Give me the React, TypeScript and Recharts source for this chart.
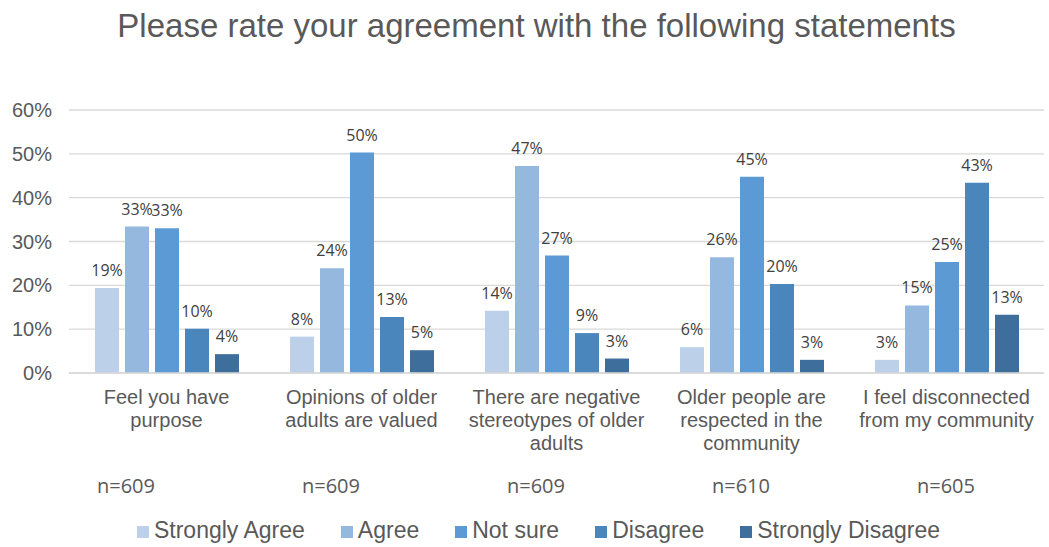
import React from 'react';
import { BarChart, Bar, XAxis, YAxis, CartesianGrid, Legend, LabelList } from 'recharts';

const categories = [
  'Feel you have\npurpose',
  'Opinions of older\nadults are valued',
  'There are negative\nstereotypes of older\nadults',
  'Older people are\nrespected in the\ncommunity',
  'I feel disconnected\nfrom my community',
];
const stronglyAgree = [19.4, 8.3, 14.2, 5.9, 3.0];
const agree = [33.4, 23.9, 47.2, 26.4, 15.4];
const notSure = [33.0, 50.3, 26.8, 44.8, 25.3];
const disagree = [10.1, 12.8, 9.1, 20.3, 43.4];
const stronglyDisagree = [4.3, 5.2, 3.3, 3.0, 13.3];

const seriesNames = ['Strongly Agree', 'Agree', 'Not sure', 'Disagree', 'Strongly Disagree'];
const seriesColors = ['#BDD0E9', '#95B8DF', '#5B9AD5', '#4A85BC', '#3E6E9C'];
const sampleSizes = ['n=609', 'n=609', 'n=609', 'n=610', 'n=605'];
const yTicks = [0, 10, 20, 30, 40, 50, 60];
const titleText = 'Please rate your agreement with the following statements';

const seriesValues = [stronglyAgree, agree, notSure, disagree, stronglyDisagree];
const data = categories.map((category, i) => {
  const row: Record<string, any> = { category };
  seriesValues.forEach((vals, s) => {
    row['s' + s] = vals[i];
  });
  return row;
});

const SANS = '"Liberation Sans", Arial, sans-serif';
const LABEL_FONT = '"Open Sans", "Noto Sans", sans-serif';
const GREY = '#595959';

const CategoryTick = (props: any) => {
  const { x, y, payload } = props;
  const lines = String(payload.value).split('\n');
  return (
    <text
      x={x}
      y={y}
      textAnchor="middle"
      fontSize={20}
      fill={GREY}
      fontFamily={SANS}
    >
      {lines.map((line, i) => (
        <tspan key={i} x={x} dy={i === 0 ? 14.2 : 23}>
          {line}
        </tspan>
      ))}
    </text>
  );
};

const renderLegend = (props: any) => {
  const payload = [...(props.payload || [])].sort(
    (a: any, b: any) => seriesNames.indexOf(a.value) - seriesNames.indexOf(b.value)
  );
  return (
    <div
      style={{
        display: 'flex',
        justifyContent: 'center',
        alignItems: 'baseline',
        fontFamily: SANS,
        fontSize: 23,
        lineHeight: 1,
        color: GREY,
      }}
    >
      {payload.map((entry: any, i: number) => (
        <div
          key={i}
          style={{ display: 'flex', alignItems: 'baseline', marginLeft: i === 0 ? 0 : 36 }}
        >
          <span
            style={{
              display: 'inline-block',
              width: 12,
              height: 12,
              background: entry.color,
              marginRight: 5,
            }}
          />
          <span>{entry.value}</span>
        </div>
      ))}
    </div>
  );
};

export default function App() {
  return (
    <div
      style={{
        position: 'absolute',
        left: 0,
        top: 0,
        width: 1049,
        height: 547,
        background: '#ffffff',
        fontFamily: SANS,
        overflow: 'hidden',
      }}
    >
      <div
        style={{
          position: 'absolute',
          left: 12,
          top: 9,
          width: 1049,
          textAlign: 'center',
          fontSize: 33,
          lineHeight: 1,
          color: GREY,
          fontFamily: SANS,
          whiteSpace: 'nowrap',
        }}
      >
        {titleText}
      </div>
      <BarChart
        width={1049}
        height={547}
        data={data}
        margin={{ top: 110, right: 5, left: 0, bottom: 0 }}
        barSize={24}
        barGap={6}
      >
        <CartesianGrid vertical={false} stroke="#D9D9D9" strokeWidth={1.3} />
        <XAxis
          dataKey="category"
          interval={0}
          height={174}
          axisLine={{ stroke: '#D9D9D9', strokeWidth: 1.3 }}
          tickLine={false}
          tickSize={0}
          tickMargin={17}
          tick={<CategoryTick />}
        />
        <YAxis
          domain={[0, 60]}
          ticks={yTicks}
          tickFormatter={(v: number) => `${v}%`}
          axisLine={false}
          tickLine={false}
          tickSize={0}
          tickMargin={17}
          width={69}
          tick={{ fontSize: 20, fill: GREY, fontFamily: SANS }}
        />
        <Legend
          verticalAlign="middle"
          align="center"
          layout="horizontal"
          wrapperStyle={{ top: 519, left: 14, width: 1049 }}
          content={renderLegend}
        />
        {seriesNames.map((name, s) => (
          <Bar
            key={name}
            dataKey={'s' + s}
            name={name}
            fill={seriesColors[s]}
            isAnimationActive={false}
          >
            <LabelList
              dataKey={'s' + s}
              position="top"
              offset={12}
              formatter={(v: any) => `${Math.round(Number(v))}%`}
              style={{ fill: '#404040', fontSize: 16, fontFamily: LABEL_FONT }}
            />
          </Bar>
        ))}
      </BarChart>
      {sampleSizes.map((n, i) => (
        <div
          key={i}
          style={{
            position: 'absolute',
            left: 126 + i * 205 - 50,
            top: 476,
            width: 100,
            textAlign: 'center',
            fontFamily: LABEL_FONT,
            fontSize: 20,
            lineHeight: 1,
            color: GREY,
          }}
        >
          {n}
        </div>
      ))}
    </div>
  );
}
